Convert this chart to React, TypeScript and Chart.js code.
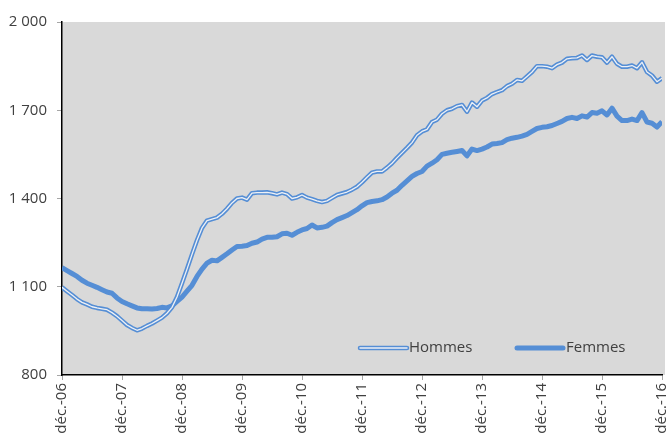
import React, { useEffect, useRef } from "react";
import { Chart, registerables } from "chart.js";

Chart.register(...registerables);

const xTickLabels = [
  "déc.-06", "déc.-07", "déc.-08", "déc.-09", "déc.-10", "déc.-11",
  "déc.-12", "déc.-13", "déc.-14", "déc.-15", "déc.-16",
];

const yTicks = [800, 1100, 1400, 1700, 2000];

// Monthly values, Dec 2006 .. Dec 2016 (121 points)
const hommes = [
  1098, 1085, 1072, 1058, 1047, 1040, 1032, 1028, 1025, 1022, 1012, 1000,
  985, 970, 960, 952, 958, 967, 975, 985, 995, 1010, 1030, 1065,
  1112, 1160, 1210, 1258, 1300, 1325, 1330, 1335, 1348, 1365, 1385, 1400,
  1403, 1396, 1418, 1420, 1420, 1421, 1418, 1414, 1420, 1415, 1400, 1404,
  1412, 1403, 1398, 1392, 1388, 1392, 1402, 1412, 1417, 1422, 1430, 1440,
  1455, 1472, 1488, 1492, 1492, 1505, 1520, 1538, 1555, 1572, 1590, 1615,
  1628, 1635, 1660, 1668, 1688, 1700, 1705, 1714, 1718, 1695, 1726, 1712,
  1733, 1742, 1755, 1762, 1768, 1782, 1790, 1803, 1800, 1815, 1830, 1850,
  1850, 1848, 1843, 1855, 1862, 1875, 1877, 1878, 1886, 1871, 1886, 1882,
  1880, 1862, 1882, 1858, 1848, 1848, 1852, 1843, 1863, 1830, 1818, 1797,
  1809,
];

const femmes = [
  1165, 1155, 1145, 1135, 1122, 1112, 1105, 1098, 1090, 1082, 1078, 1062,
  1050, 1042, 1035, 1028, 1025, 1025, 1024, 1026, 1030, 1028, 1035, 1050,
  1065, 1085, 1105, 1135, 1160, 1180, 1190, 1188, 1200, 1212, 1225, 1237,
  1238, 1240, 1248, 1252, 1262, 1268, 1268, 1270, 1280, 1282, 1275, 1285,
  1293, 1298, 1310, 1300, 1302, 1306, 1318, 1328, 1335, 1342, 1352, 1362,
  1375, 1386, 1390, 1392, 1396, 1405, 1418, 1428, 1445, 1460, 1475, 1485,
  1492, 1510, 1520, 1532, 1550, 1554, 1557, 1560, 1563, 1545, 1568, 1563,
  1568, 1575, 1585, 1587, 1590, 1600, 1605, 1608, 1612, 1618, 1628, 1638,
  1642, 1644, 1648, 1655, 1662, 1672, 1676, 1672, 1681, 1677, 1692, 1690,
  1698, 1684, 1707, 1680, 1665, 1665, 1670, 1665, 1692, 1660, 1656, 1643,
  1661,
];

const seriesNames = ["Hommes", "Femmes"];

const BLUE = "#558ed5";
const INNER = "#eef1f6";
const BG = "#d9d9d9";
const TEXT = "#404040";
const FONT = "'Open Sans', 'Noto Sans', sans-serif";

const fmt = (v: number) =>
  String(v).replace(/\B(?=(\d{3})+(?!\d))/g, " ");

const bgPlugin = {
  id: "plotBg",
  beforeDraw(chart: any) {
    const { ctx, chartArea } = chart;
    ctx.save();
    ctx.fillStyle = BG;
    ctx.fillRect(
      chartArea.left,
      chartArea.top,
      chartArea.right - chartArea.left + 3,
      chartArea.bottom - chartArea.top
    );
    ctx.restore();
  },
};

const legendPlugin = {
  id: "innerLegend",
  afterDraw(chart: any) {
    const { ctx, chartArea } = chart;
    const y = chartArea.bottom - 27;
    ctx.save();
    ctx.font = `15px ${FONT}`;
    ctx.fillStyle = TEXT;
    ctx.textBaseline = "middle";
    ctx.lineCap = "round";
    // Hommes
    const hx0 = chartArea.left + 298;
    const hx1 = hx0 + 47;
    ctx.strokeStyle = BLUE;
    ctx.lineWidth = 4.5;
    ctx.beginPath();
    ctx.moveTo(hx0, y);
    ctx.lineTo(hx1, y);
    ctx.stroke();
    ctx.strokeStyle = INNER;
    ctx.lineWidth = 1.5;
    ctx.beginPath();
    ctx.moveTo(hx0, y);
    ctx.lineTo(hx1, y);
    ctx.stroke();
    ctx.fillText(seriesNames[0], hx1 + 2, y);
    // Femmes
    const fx0 = chartArea.left + 455;
    const fx1 = fx0 + 46;
    ctx.strokeStyle = BLUE;
    ctx.lineWidth = 5;
    ctx.beginPath();
    ctx.moveTo(fx0, y);
    ctx.lineTo(fx1, y);
    ctx.stroke();
    ctx.fillText(seriesNames[1], fx1 + 3, y);
    ctx.restore();
  },
};

export default function App() {
  const ref = useRef<HTMLCanvasElement | null>(null);

  useEffect(() => {
    if (!ref.current) return;
    const toPts = (arr: number[]) => arr.map((v, i) => ({ x: i, y: v }));
    const chart = new Chart(ref.current, {
      type: "line",
      data: {
        datasets: [
          {
            label: seriesNames[0] + " inner",
            data: toPts(hommes),
            borderColor: INNER,
            borderWidth: 1.3,
            pointRadius: 0,
            tension: 0,
            borderJoinStyle: "round",
            order: 0,
          },
          {
            label: seriesNames[0],
            data: toPts(hommes),
            borderColor: BLUE,
            borderWidth: 4.5,
            pointRadius: 0,
            tension: 0,
            borderJoinStyle: "round",
            order: 1,
          },
          {
            label: seriesNames[1],
            data: toPts(femmes),
            borderColor: BLUE,
            borderWidth: 5,
            pointRadius: 0,
            tension: 0,
            borderJoinStyle: "round",
            order: 2,
          },
        ],
      },
      options: {
        responsive: false,
        animation: false,
        events: [],
        layout: { padding: { top: 22, right: 8, left: 0, bottom: 0 } },
        plugins: {
          legend: { display: false },
          tooltip: { enabled: false },
        },
        scales: {
          x: {
            type: "linear",
            min: 0,
            max: 120,
            afterFit: (s: any) => {
              s.height = 62;
              s.paddingRight = 0;
              s.paddingLeft = 0;
            },
            afterBuildTicks: (s: any) => {
              s.ticks = xTickLabels.map((_, i) => ({ value: i * 12 }));
            },
            ticks: {
              stepSize: 12,
              autoSkip: false,
              maxRotation: 90,
              minRotation: 90,
              padding: 3,
              color: TEXT,
              font: { family: FONT, size: 15 },
              callback: (v: any) => xTickLabels[Math.round(Number(v) / 12)] ?? "",
            },
            grid: {
              drawOnChartArea: false,
              drawTicks: true,
              tickLength: 5,
              color: "#a6a6a6",
            },
            border: { color: "#000", width: 1.5 },
          },
          y: {
            min: 800,
            max: 2000,
            afterFit: (s: any) => {
              s.width = 62;
            },
            afterBuildTicks: (s: any) => {
              s.ticks = yTicks.map((v) => ({ value: v }));
            },
            ticks: {
              stepSize: 300,
              padding: 10,
              color: TEXT,
              font: { family: FONT, size: 15 },
              callback: (v: any) => fmt(Number(v)),
            },
            grid: {
              drawOnChartArea: false,
              drawTicks: true,
              tickLength: 5,
              color: "#a6a6a6",
            },
            border: { color: "#000", width: 1.5 },
          },
        },
      },
      plugins: [bgPlugin, legendPlugin],
    } as any);
    return () => chart.destroy();
  }, []);

  return (
    <div style={{ position: "fixed", left: 0, top: 0, width: 670, height: 437, background: "#fff" }}>
      <canvas ref={ref} width={670} height={437} style={{ display: "block" }} />
    </div>
  );
}
